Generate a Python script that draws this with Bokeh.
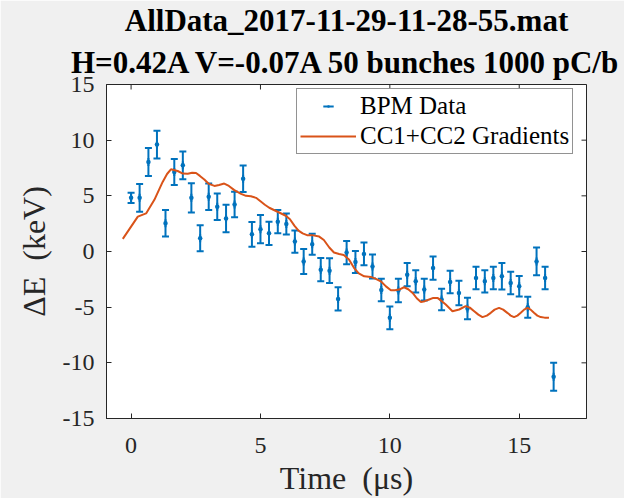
import numpy as np
from bokeh.plotting import figure
from bokeh.models import (ColumnDataSource, Whisker, TeeHead, Legend, LegendItem,
                          Title, FixedTicker, Range1d)
from bokeh.embed import file_html
from bokeh.resources import INLINE

# ---- data ----
bunch_time_us = [0.00, 0.33, 0.67, 1.00, 1.33, 1.67, 2.00, 2.33, 2.67, 3.00,
                 3.33, 3.67, 4.00, 4.33, 4.67, 5.00, 5.33, 5.67, 6.00, 6.33,
                 6.67, 7.00, 7.33, 7.67, 8.00, 8.33, 8.67, 9.00, 9.33, 9.67,
                 10.00, 10.33, 10.67, 11.00, 11.33, 11.67, 12.00, 12.33, 12.67, 13.00,
                 13.33, 13.67, 14.00, 14.33, 14.67, 15.00, 15.33, 15.67, 16.00, 16.33]
bpm_de_kev = [4.82, 4.82, 8.04, 9.60, 2.53, 7.14, 7.74, 4.82, 1.19, 4.91,
              4.02, 2.97, 4.22, 6.54, 1.54, 2.00, 1.63, 2.68, 2.47, 0.89,
              -0.89, 0.65, -1.63, -1.72, -4.26, -0.10, -0.94, -0.22, -1.34, -3.46,
              -5.96, -3.50, -2.08, -2.68, -3.42, -1.49, -4.31, -2.74, -3.72, -5.12,
              -2.38, -2.68, -2.38, -2.23, -2.83, -3.13, -5.00, -0.89, -2.38, -11.25]
bpm_err_kev = [0.46, 1.24, 1.25, 1.24, 1.19, 1.16, 1.25, 1.31, 1.16, 1.19,
               1.19, 1.24, 1.15, 1.19, 1.12, 1.27, 1.04, 1.04, 0.94, 1.00,
               1.12, 0.95, 1.04, 1.12, 1.04, 1.04, 0.98, 1.02, 1.08, 1.01,
               1.02, 1.05, 1.04, 1.00, 0.97, 1.04, 0.97, 1.00, 1.10, 0.97,
               1.00, 1.00, 1.00, 1.19, 1.01, 0.92, 0.94, 1.24, 1.00, 1.25]

curve_time_us = [-0.32, 0.26, 0.58, 0.90, 1.22, 1.39, 1.54, 1.80, 2.00, 2.19,
                 2.36, 2.51, 2.66, 2.83, 3.01, 3.22, 3.40, 3.60, 3.78, 3.99,
                 4.25, 4.44, 4.63, 4.83, 5.00, 5.17, 5.34, 5.66, 5.98, 6.14,
                 6.31, 6.47, 6.63, 6.80, 6.99, 7.27, 7.45, 7.66, 7.84, 8.04,
                 8.22, 8.42, 8.62, 8.80, 9.01, 9.27, 9.46, 9.65, 9.85, 10.04,
                 10.19, 10.36, 10.55, 10.71, 10.88, 11.04, 11.20, 11.35, 11.52, 11.68,
                 11.84, 12.01, 12.16, 12.42, 12.68, 12.93, 13.09, 13.26, 13.42, 13.58,
                 13.75, 13.90, 14.05, 14.22, 14.38, 14.54, 14.67, 14.80, 14.93, 15.06,
                 15.19, 15.32, 15.44, 15.57, 15.70, 15.83, 15.98, 16.15]
curve_de_kev = [1.13, 3.13, 3.42, 4.64, 6.25, 6.96, 7.38, 7.23, 7.00, 6.99,
                7.08, 7.05, 6.79, 6.47, 6.07, 5.89, 5.98, 6.10, 5.89, 5.51,
                5.18, 5.00, 4.96, 4.82, 4.51, 4.20, 3.93, 3.57, 3.21, 2.90,
                2.32, 1.88, 1.63, 1.47, 1.47, 1.34, 1.03, 0.36, -0.09, -0.22,
                -0.31, -0.71, -1.49, -1.96, -2.23, -2.28, -2.46, -2.68, -3.13, -3.48,
                -3.48, -3.42, -3.21, -3.39, -3.72, -4.20, -4.53, -4.46, -4.31, -4.17,
                -4.17, -4.46, -4.76, -5.36, -5.21, -4.91, -5.04, -5.36, -5.67, -5.89,
                -5.76, -5.51, -5.22, -5.06, -5.22, -5.51, -5.76, -5.89, -5.76, -5.51,
                -5.22, -5.06, -5.22, -5.51, -5.76, -5.89, -5.94, -5.96]

x_ticks = [0, 5, 10, 15]
y_ticks = [-15, -10, -5, 0, 5, 10, 15]
x_limits = (-0.95, 17.6)
y_limits = (-15, 15)

title_line1 = "AllData_2017-11-29-11-28-55.mat"
title_line2 = "H=0.42A V=-0.07A 50 bunches 1000 pC/b"
x_label = "Time\u00a0\u00a0(\u03bcs)"
y_label = "\u0394E\u00a0\u00a0(keV)"
series_names = ["BPM Data", "CC1+CC2 Gradients"]

# ---- style ----
FONT = "Liberation Serif"
BLUE = "#0072BD"
ORANGE = "#D95319"
AX = "#262626"

p = figure(width=624, height=498, output_backend="svg", toolbar_location=None,
           title=None,
           x_range=Range1d(*x_limits), y_range=Range1d(*y_limits),
           min_border_left=106, min_border_right=38,
           min_border_top=82, min_border_bottom=80,
           background_fill_color="white", border_fill_color="#F0F0F0",
           outline_line_color=AX, outline_line_width=1)
p.grid.visible = False

for ax, ticks in ((p.xaxis[0], x_ticks), (p.yaxis[0], y_ticks)):
    ax.ticker = FixedTicker(ticks=ticks)
    ax.major_label_overrides = {t: str(t) for t in ticks}
    ax.major_tick_in = 5
    ax.major_tick_out = 0
    ax.minor_tick_in = 0
    ax.minor_tick_out = 0
    ax.axis_line_color = AX
    ax.major_tick_line_color = AX
    ax.major_label_text_font = FONT
    ax.major_label_text_font_size = "24px"
    ax.major_label_text_color = AX
    ax.axis_label_text_font = FONT
    ax.axis_label_text_font_size = "32px"
    ax.axis_label_text_font_style = "normal"
    ax.axis_label_text_color = AX

p.xaxis.axis_label = x_label
p.yaxis.axis_label = y_label
p.xaxis.major_label_standoff = 19
p.yaxis.major_label_standoff = 12
p.xaxis.axis_label_standoff = 4
p.yaxis.axis_label_standoff = 8

# mirrored inward tick marks on the top and right edges of the box
p.scatter(x=x_ticks, y=[y_limits[1]] * len(x_ticks), marker="dash",
          angle=np.pi / 2, size=10, line_color=AX, line_width=1)
p.scatter(x=[x_limits[1]] * len(y_ticks), y=y_ticks, marker="dash",
          size=10, line_color=AX, line_width=1)

# titles (first added is nearest to the frame)
for txt, so in ((title_line2, 10), (title_line1, 0)):
    p.add_layout(Title(text=txt, align="center", text_font=FONT,
                       text_font_size="31px", text_font_style="bold",
                       text_color="black", standoff=so), "above")

# ---- data glyphs ----
hi = [v + e for v, e in zip(bpm_de_kev, bpm_err_kev)]
lo = [v - e for v, e in zip(bpm_de_kev, bpm_err_kev)]
src = ColumnDataSource(data=dict(t=bunch_time_us, de=bpm_de_kev, hi=hi, lo=lo))

whisk = Whisker(source=src, base="t", upper="hi", lower="lo",
                line_color=BLUE, line_width=2,
                upper_head=TeeHead(size=7, line_color=BLUE, line_width=2),
                lower_head=TeeHead(size=7, line_color=BLUE, line_width=2))
p.add_layout(whisk)

# short vertical strokes at each point (hidden inside the error bars;
# they provide the error-bar icon in the legend)
bars = p.scatter("t", "de", source=src, marker="dash", angle=np.pi / 2,
                 size=8, line_color=BLUE, line_width=2)
dots = p.scatter("t", "de", source=src, marker="dot", size=18,
                 line_color=BLUE, fill_color=BLUE)

curve = p.line(curve_time_us, curve_de_kev, line_color=ORANGE, line_width=2)

legend = Legend(items=[LegendItem(label=series_names[0], renderers=[bars, dots]),
                       LegendItem(label=series_names[1], renderers=[curve])],
                location=(190, 264), orientation="vertical",
                padding=3, spacing=2, margin=0,
                glyph_width=56, glyph_height=26, label_standoff=4,
                label_text_font=FONT, label_text_font_size="25px",
                label_text_color="black",
                border_line_color=AX, border_line_width=1,
                background_fill_color="white", background_fill_alpha=1)
p.add_layout(legend)

open("out.html", "w").write(file_html(p, INLINE))
